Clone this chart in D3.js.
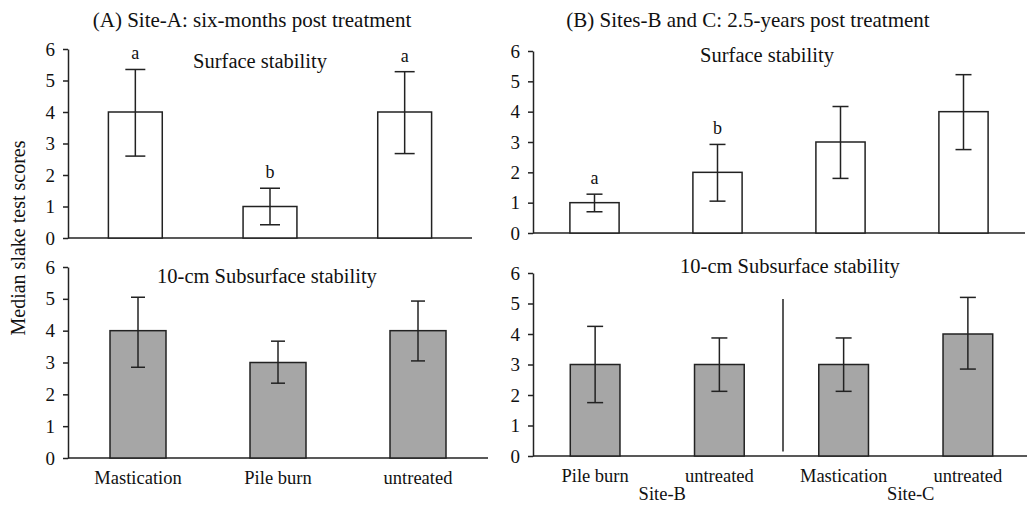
<!DOCTYPE html>
<head>
<meta http-equiv="Content-type" content="text/html;charset=UTF-8">
</head>
<style>
body { margin: 0; background: #fff; }
svg text { font-family: "Liberation Serif", "Times New Roman", serif; fill: #111; }
.axis .tick line, .axis .domain { stroke: #222; stroke-width: 1.5; }
.axis text { font-size: 19px; }
</style>
<svg width="1027" height="506"></svg>
<script src="https://d3js.org/d3.v7.min.js"></script>
<script>

// ---- data ----
var catsA = ["Mastication", "Pile burn", "untreated"];
var surfA = [4, 1, 4];
var surfALow = [2.6, 0.42, 2.68];
var surfAHigh = [5.35, 1.58, 5.28];
var surfALetters = ["a", "b", "a"];
var subA = [4, 3, 4];
var subALow = [2.85, 2.35, 3.05];
var subAHigh = [5.05, 3.67, 4.93];

var catsB = ["Pile burn", "untreated", "Mastication", "untreated"];
var sites = ["Site-B", "Site-C"];
var surfB = [1, 2, 3, 4];
var surfBLow = [0.7, 1.05, 1.8, 2.75];
var surfBHigh = [1.28, 2.92, 4.17, 5.22];
var surfBLetters = ["a", "b", "", ""];
var subB = [3, 3, 3, 4];
var subBLow = [1.75, 2.12, 2.12, 2.85];
var subBHigh = [4.25, 3.87, 3.87, 5.2];

var yTicks = [0, 1, 2, 3, 4, 5, 6];

var svg = d3.select("svg");

function panel(opt) {
  var g = svg.append("g");
  var n = opt.values.length;
  var x = d3.scaleBand().domain(d3.range(n)).range([opt.left, opt.right]);
  var y = d3.scaleLinear().domain([0, 6]).range([opt.bottom, opt.top]);
  var bw = x.bandwidth() * 0.4;

  // y axis
  g.append("g")
      .attr("class", "axis")
      .attr("transform", "translate(" + opt.left + ",0)")
      .call(d3.axisLeft(y).tickValues(yTicks).tickSize(5).tickSizeOuter(0).tickPadding(8).tickFormat(d3.format("d")));

  // baseline
  g.append("line")
      .attr("x1", opt.left).attr("x2", opt.right)
      .attr("y1", y(0)).attr("y2", y(0))
      .attr("stroke", "#222").attr("stroke-width", 1.5);

  var data = opt.values.map(function(v, i) {
    return {i: i, v: v, lo: opt.low[i], hi: opt.high[i], letter: opt.letters ? opt.letters[i] : ""};
  });

  g.selectAll(".bar").data(data).enter().append("rect")
      .attr("x", function(d) { return x(d.i) + x.bandwidth() / 2 - bw / 2; })
      .attr("y", function(d) { return y(d.v); })
      .attr("width", bw)
      .attr("height", function(d) { return y(0) - y(d.v); })
      .attr("fill", opt.fill)
      .attr("stroke", "#222")
      .attr("stroke-width", 1.5);

  var eb = g.selectAll(".err").data(data).enter().append("g")
      .attr("transform", function(d) { return "translate(" + (x(d.i) + x.bandwidth() / 2) + ",0)"; });
  eb.append("line")
      .attr("y1", function(d) { return y(d.lo); })
      .attr("y2", function(d) { return y(d.hi); })
      .attr("stroke", "#222").attr("stroke-width", 1.5);
  eb.append("line")
      .attr("x1", -opt.cap).attr("x2", opt.cap)
      .attr("y1", function(d) { return y(d.lo); })
      .attr("y2", function(d) { return y(d.lo); })
      .attr("stroke", "#222").attr("stroke-width", 1.5);
  eb.append("line")
      .attr("x1", -opt.cap).attr("x2", opt.cap)
      .attr("y1", function(d) { return y(d.hi); })
      .attr("y2", function(d) { return y(d.hi); })
      .attr("stroke", "#222").attr("stroke-width", 1.5);
  eb.append("text")
      .attr("y", function(d) { return y(d.hi) - 10; })
      .attr("text-anchor", "middle")
      .style("font-size", "18px")
      .text(function(d) { return d.letter; });

  // panel subtitle
  g.append("text")
      .attr("x", opt.subX)
      .attr("y", opt.subY)
      .attr("text-anchor", "middle")
      .style("font-size", "20.5px")
      .text(opt.sub);

  if (opt.cats) {
    g.selectAll(".xl").data(data).enter().append("text")
        .attr("x", function(d) { return x(d.i) + x.bandwidth() / 2; })
        .attr("y", y(0) + 26)
        .attr("text-anchor", "middle")
        .style("font-size", "18.5px")
        .text(function(d) { return opt.cats[d.i]; });
  }
  return {x: x, y: y, g: g};
}

panel({left: 68, right: 472, top: 49, bottom: 238, values: surfA, low: surfALow, high: surfAHigh,
       letters: surfALetters, fill: "#fff", cap: 10, sub: "Surface stability", subX: 260, subY: 68});
panel({left: 68, right: 488, top: 267, bottom: 458, values: subA, low: subALow, high: subAHigh,
       fill: "#a6a6a6", cap: 7, sub: "10-cm Subsurface stability", subX: 267, subY: 283, cats: catsA});
panel({left: 533, right: 1025, top: 51, bottom: 233, values: surfB, low: surfBLow, high: surfBHigh,
       letters: surfBLetters, fill: "#fff", cap: 8, sub: "Surface stability", subX: 767, subY: 62});
var pb = panel({left: 533, right: 1030, top: 273, bottom: 456, values: subB, low: subBLow, high: subBHigh,
       fill: "#a6a6a6", cap: 8, sub: "10-cm Subsurface stability", subX: 790, subY: 273, cats: catsB});

// divider between Site-B and Site-C
pb.g.append("line")
    .attr("x1", 783).attr("x2", 783)
    .attr("y1", pb.y(5.15)).attr("y2", pb.y(0.15))
    .attr("stroke", "#222").attr("stroke-width", 1.5);

// site labels
pb.g.selectAll(".site").data(sites).enter().append("text")
    .attr("x", function(d, i) { return (pb.x(i * 2) + pb.x(i * 2 + 1) + pb.x.bandwidth()) / 2 + 5; })
    .attr("y", pb.y(0) + 44)
    .attr("text-anchor", "middle")
    .style("font-size", "18.5px")
    .text(function(d) { return d; });

// titles
svg.append("text")
    .attr("x", 252).attr("y", 27)
    .attr("text-anchor", "middle")
    .style("font-size", "21px")
    .text("(A) Site-A: six-months post treatment");
svg.append("text")
    .attr("x", 748).attr("y", 27)
    .attr("text-anchor", "middle")
    .style("font-size", "21px")
    .text("(B) Sites-B and C: 2.5-years post treatment");

// y label
svg.append("text")
    .attr("transform", "translate(25,238) rotate(-90)")
    .attr("text-anchor", "middle")
    .style("font-size", "20px")
    .text("Median slake test scores");

</script>
